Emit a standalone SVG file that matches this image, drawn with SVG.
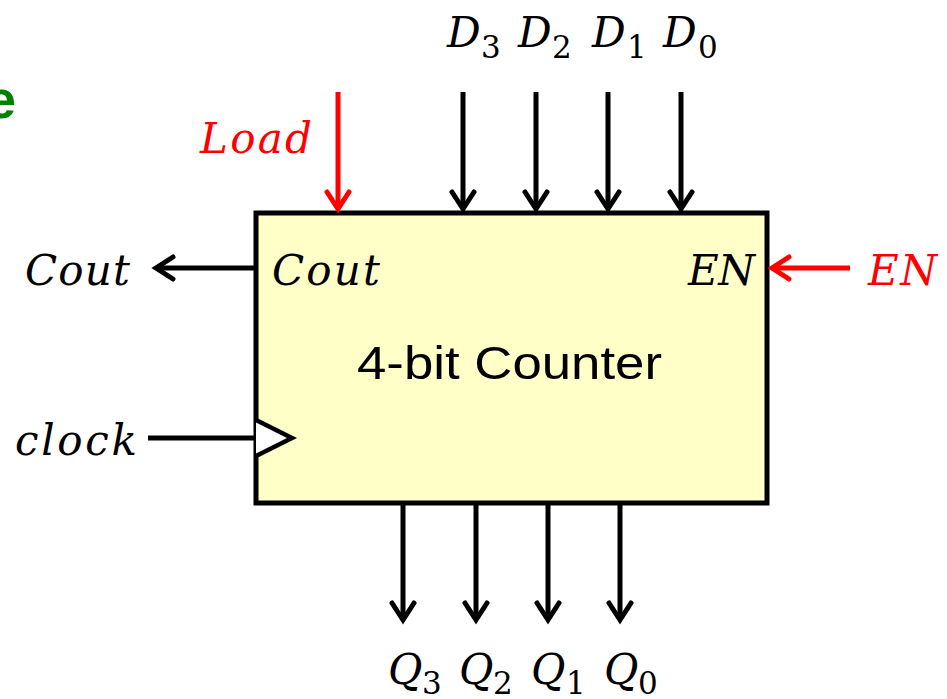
<svg xmlns="http://www.w3.org/2000/svg" width="947" height="699" viewBox="0 0 947 699">
<style>
.m{font-family:"DejaVu Serif","Liberation Serif",serif;font-style:italic;font-size:42px;fill:#000}
.s{font-family:"DejaVu Serif","Liberation Serif",serif;font-style:normal;font-size:31px;fill:#000}
.red{fill:#FF0000}
.w{stroke:#000;stroke-width:5;fill:none}
.wr{stroke:#FF0000;stroke-width:5;fill:none}
</style>
<defs>
<marker id="ab" markerUnits="userSpaceOnUse" orient="auto" markerWidth="40" markerHeight="40" refX="0" refY="0" viewBox="-20 -20 40 40" overflow="visible">
<path d="M-17,-11 L0,0 L-17,11" fill="none" stroke="#000" stroke-width="5" stroke-linecap="round" stroke-linejoin="miter"/>
</marker>
<marker id="ar" markerUnits="userSpaceOnUse" orient="auto" markerWidth="40" markerHeight="40" refX="0" refY="0" viewBox="-20 -20 40 40" overflow="visible">
<path d="M-17,-11 L0,0 L-17,11" fill="none" stroke="#FF0000" stroke-width="5" stroke-linecap="round" stroke-linejoin="miter"/>
</marker>
</defs>
<rect width="947" height="699" fill="#fff"/>
<g id="title-fragment">
<text x="-14" y="118" font-family="Liberation Sans,Arial,sans-serif" font-weight="bold" font-size="54" fill="#008000">e</text>
</g>
<g id="counter">
<rect x="256" y="213" width="511" height="290" fill="#FFFFC8" stroke="#000" stroke-width="5"/>
<text x="357" y="379" font-family="Liberation Sans,Arial,sans-serif" font-size="47" textLength="305" lengthAdjust="spacingAndGlyphs">4-bit Counter</text>
<text class="m" x="272" y="285" textLength="108">Cout</text>
<text class="m" x="688" y="285" textLength="67">EN</text>
<path d="M256,420 L292,438 L256,456" fill="#fff" stroke="#000" stroke-width="4.5" stroke-linejoin="miter"/>
</g>
<g id="connectors">
<line class="wr" x1="338" y1="92" x2="338" y2="209" marker-end="url(#ar)"/>
<line class="w" x1="463" y1="92" x2="463" y2="209" marker-end="url(#ab)"/>
<line class="w" x1="536" y1="92" x2="536" y2="209" marker-end="url(#ab)"/>
<line class="w" x1="608" y1="92" x2="608" y2="209" marker-end="url(#ab)"/>
<line class="w" x1="681" y1="92" x2="681" y2="209" marker-end="url(#ab)"/>
<line class="w" x1="403" y1="505" x2="403" y2="620" marker-end="url(#ab)"/>
<line class="w" x1="476" y1="505" x2="476" y2="620" marker-end="url(#ab)"/>
<line class="w" x1="548" y1="505" x2="548" y2="620" marker-end="url(#ab)"/>
<line class="w" x1="620" y1="505" x2="620" y2="620" marker-end="url(#ab)"/>
<line class="w" x1="254" y1="268" x2="156" y2="268" marker-end="url(#ab)"/>
<line class="wr" x1="850" y1="268" x2="772" y2="268" marker-end="url(#ar)"/>
<line class="w" x1="148" y1="438" x2="256" y2="438"/>
</g>
<g id="label-load"><text class="m red" x="200" y="153" textLength="112">Load</text></g>
<g id="label-d3"><text class="m" x="447" y="47">D</text><text class="s" x="481" y="58">3</text></g>
<g id="label-d2"><text class="m" x="518" y="47">D</text><text class="s" x="552" y="58">2</text></g>
<g id="label-d1"><text class="m" x="592" y="47">D</text><text class="s" x="627" y="58">1</text></g>
<g id="label-d0"><text class="m" x="663" y="47">D</text><text class="s" x="698" y="58">0</text></g>
<g id="label-cout"><text class="m" x="25" y="285" textLength="105">Cout</text></g>
<g id="label-en"><text class="m red" x="868" y="285" textLength="69">EN</text></g>
<g id="label-clock"><text class="m" x="15" y="455" textLength="122">clock</text></g>
<g id="label-q3"><text class="m" x="388" y="684">Q</text><text class="s" x="422" y="694">3</text></g>
<g id="label-q2"><text class="m" x="459" y="684">Q</text><text class="s" x="493" y="694">2</text></g>
<g id="label-q1"><text class="m" x="531" y="684">Q</text><text class="s" x="566" y="694">1</text></g>
<g id="label-q0"><text class="m" x="604" y="684">Q</text><text class="s" x="638" y="694">0</text></g>
</svg>
